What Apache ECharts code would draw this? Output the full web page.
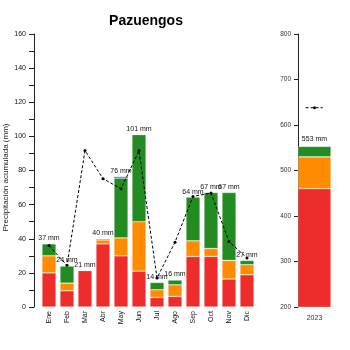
<!DOCTYPE html>
<html>
<head>
<meta charset="utf-8">
<script src="https://cdn.jsdelivr.net/npm/echarts@6/dist/echarts.min.js"></script>
<style>html,body{margin:0;padding:0;background:#fff}#c{width:350px;height:350px}</style>
</head>
<body>
<div id="c"></div>
<script>
var months = ['Ene','Feb','Mar','Abr','May','Jun','Jul','Ago','Sep','Oct','Nov','Dic'];
var redVals    = [20, 9.5, 21.4, 37, 30, 21, 5.6, 6.2, 29.6, 29.6, 16.4, 18.9];
var orangeVals = [10, 4.5, 0, 2.3, 10.5, 29, 4.5, 6.8, 9.2, 4.7, 10.9, 5.9];
var greenVals  = [7, 10, 0, 0.7, 35, 51, 4.3, 2.8, 25.6, 32.8, 39.8, 2.5];
var blueVals   = [0, 0, 0, 0, 0.8, 0, 0, 0, 0, 0, 0, 0];
var normalVals = [36, 24.4, 91.7, 75.2, 69.3, 91.6, 17, 38, 64.8, 66.8, 38.4, 28.7];
var leftTicks  = [0, 160, 20];

var years = ['2023'];
var yearRed = [460];
var yearOrange = [70];
var yearGreen = [23];
var yearNormal = [638];
var rightTicks = [200, 800, 100];

var totals = months.map(function(m, i){ return redVals[i] + orangeVals[i] + greenVals[i] + blueVals[i]; });
var yearTotals = years.map(function(y, i){ return yearRed[i] + yearOrange[i] + yearGreen[i]; });

var FONT = 'Liberation Sans, Arial, sans-serif';
var chart = echarts.init(document.getElementById('c'), null, {renderer: 'canvas'});
var C_RED = '#EE2C2C', C_OR = '#FF8C00', C_GR = '#228B22', C_BL = '#6495ED';
var BORDER = {borderColor: 'rgba(255,255,255,0.45)', borderWidth: 0.6};

var option = {
  animation: false,
  textStyle: {fontFamily: FONT},
  title: {
    text: 'Pazuengos', left: 141, top: 9, textAlign: 'center',
    textStyle: {fontSize: 14, fontWeight: 'bold', color: '#000', fontFamily: FONT}
  },
  grid: [
    {left: 40, right: 94, top: 34, bottom: 43, containLabel: false, outerBoundsMode: 'none'},
    {left: 298, right: 19, top: 34, bottom: 43, containLabel: false, outerBoundsMode: 'none'}
  ],
  xAxis: [
    {type: 'category', gridIndex: 0, data: months, boundaryGap: true,
     axisLine: {show: false}, axisTick: {show: false},
     axisLabel: {rotate: 90, fontSize: 7, color: '#111', margin: 4, fontFamily: FONT}},
    {type: 'category', gridIndex: 1, data: years,
     axisLine: {show: false}, axisTick: {show: false},
     axisLabel: {fontSize: 7, color: '#333', margin: 8, fontFamily: FONT}},
    {type: 'value', gridIndex: 1, min: 0, max: 1, show: false}
  ],
  yAxis: [
    {type: 'value', gridIndex: 0, min: leftTicks[0], max: leftTicks[1], interval: leftTicks[2], offset: 6,
     name: 'Precipitación acumulada (mm)', nameLocation: 'middle', nameGap: 24, nameMoveOverlap: false,
     nameTextStyle: {fontSize: 8, color: '#222', fontFamily: FONT, padding: [0, 14, 0, 0]},
     axisLine: {show: true, lineStyle: {color: '#222', width: 1}},
     axisTick: {show: true, length: 5, lineStyle: {color: '#222'}},
     minorTick: {show: true, splitNumber: 2, length: 5, lineStyle: {color: '#222'}},
     splitLine: {show: false},
     axisLabel: {fontSize: 7, color: '#111', margin: 8, fontFamily: FONT}},
    {type: 'value', gridIndex: 1, min: rightTicks[0], max: rightTicks[1], interval: rightTicks[2],
     axisLine: {show: true, lineStyle: {color: '#222', width: 1}},
     axisTick: {show: true, length: 4, lineStyle: {color: '#222'}},
     splitLine: {show: false},
     axisLabel: {fontSize: 6.5, color: '#333', margin: 7, fontFamily: FONT}}
  ],
  series: [
    {type: 'bar', stack: 'm', xAxisIndex: 0, yAxisIndex: 0, data: redVals, barWidth: '78%', itemStyle: Object.assign({color: C_RED}, BORDER)},
    {type: 'bar', stack: 'm', xAxisIndex: 0, yAxisIndex: 0, data: orangeVals, itemStyle: Object.assign({color: C_OR}, BORDER)},
    {type: 'bar', stack: 'm', xAxisIndex: 0, yAxisIndex: 0, data: greenVals, itemStyle: Object.assign({color: C_GR}, BORDER)},
    {type: 'bar', stack: 'm', xAxisIndex: 0, yAxisIndex: 0, data: blueVals, itemStyle: {color: C_BL},
     label: {show: true, position: 'top', distance: 2, fontSize: 7, color: '#111', fontFamily: FONT,
       formatter: function(p){ return Math.round(totals[p.dataIndex]) + ' mm'; }}},
    {type: 'line', xAxisIndex: 0, yAxisIndex: 0, data: normalVals, symbol: 'circle', symbolSize: 3,
     itemStyle: {color: '#000'}, lineStyle: {color: '#000', width: 1, type: [3, 2]}, z: 5},

    {type: 'bar', stack: 'y', xAxisIndex: 1, yAxisIndex: 1, data: yearRed, barWidth: '100%', itemStyle: Object.assign({color: C_RED}, BORDER)},
    {type: 'bar', stack: 'y', xAxisIndex: 1, yAxisIndex: 1, data: yearOrange, itemStyle: Object.assign({color: C_OR}, BORDER)},
    {type: 'bar', stack: 'y', xAxisIndex: 1, yAxisIndex: 1, data: yearGreen, itemStyle: Object.assign({color: C_GR}, BORDER),
     label: {show: true, position: 'top', distance: 4, fontSize: 7, color: '#111', fontFamily: FONT,
       formatter: function(p){ return Math.round(yearTotals[p.dataIndex]) + ' mm'; }}},
    {type: 'line', xAxisIndex: 2, yAxisIndex: 1,
     data: [
       {value: [0.23, yearNormal[0]], symbol: 'none'},
       {value: [0.5, yearNormal[0]], symbol: 'circle', symbolSize: 3},
       {value: [0.75, yearNormal[0]], symbol: 'none'}
     ],
     itemStyle: {color: '#000'}, lineStyle: {color: '#000', width: 1, type: [3, 2]}, z: 5}
  ]
};
chart.setOption(option);
</script>
</body>
</html>
